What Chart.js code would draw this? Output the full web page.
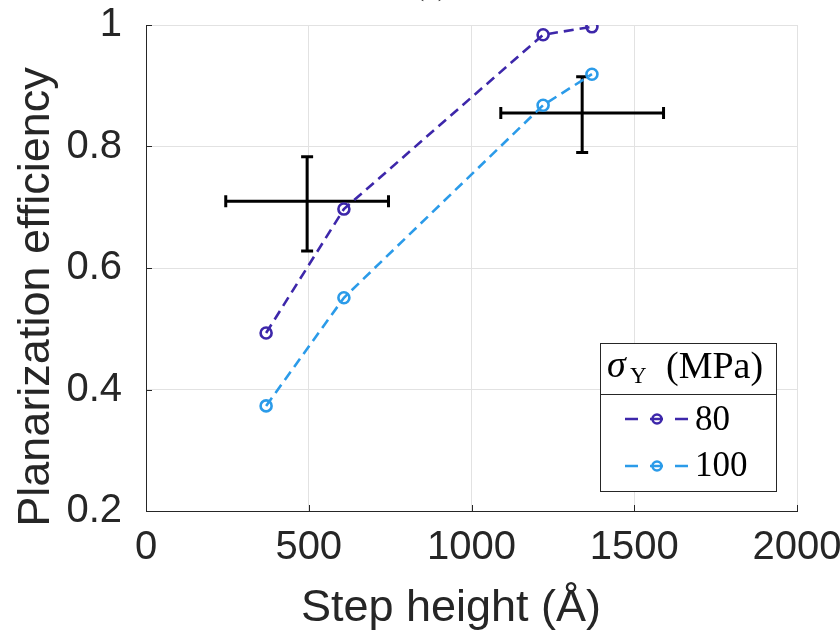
<!DOCTYPE html>
<html>
<head>
<meta charset="utf-8">
<script src="https://cdn.jsdelivr.net/npm/chart.js@4.4.1/dist/chart.umd.min.js"></script>
<style>
  html, body { margin: 0; padding: 0; background: #fff; }
  canvas { display: block; }
</style>
</head>
<body>
<canvas id="effChart" width="840" height="633"></canvas>
<script>
// Simulated points: step height (Å) and planarization efficiency per yield stress
const stepHeight = [369, 608, 1220, 1370];
const eff80 = [0.493, 0.697, 0.984, 0.997];
const eff100 = [0.373, 0.551, 0.868, 0.919];
const seriesLabels = ["80", "100"];
const seriesColors = ["#3d27aa", "#2b9be9"];

// Experimental points with error bars
const expX = [495, 1340];
const expY = [0.710, 0.855];
const expXLow = [245, 1090];
const expXHigh = [745, 1590];
const expYLow = [0.628, 0.790];
const expYHigh = [0.783, 0.915];

const xTicks = [0, 500, 1000, 1500, 2000];
const yTicks = [0.2, 0.4, 0.6, 0.8, 1];

const axisColor = "#262626";
const sansFont = "'Liberation Sans', Arial, sans-serif";
const serifFont = "'Liberation Serif', 'Times New Roman', serif";

function toPoints(ys) {
    return stepHeight.map((x, i) => ({ x: x, y: ys[i] }));
}

function makeSeries(label, ys, color) {
    return {
        label: label,
        data: toPoints(ys),
        showLine: true,
        borderColor: color,
        borderWidth: 2.6,
        borderDash: [10, 6],
        pointRadius: 5.5,
        pointHoverRadius: 5.5,
        pointBorderWidth: 2.6,
        pointBorderColor: color,
        pointBackgroundColor: "rgba(0,0,0,0)",
        tension: 0,
    };
}

// Inward tick marks and the error bars, drawn under the data
const underlayPlugin = {
    id: "underlay",
    beforeDatasetsDraw(chart) {
        const { ctx, scales: { x, y }, chartArea } = chart;
        ctx.save();
        // inward ticks
        ctx.strokeStyle = axisColor;
        ctx.lineWidth = 1;
        ctx.beginPath();
        xTicks.forEach((v) => {
            const px = Math.round(x.getPixelForValue(v)) + 0.5;
            ctx.moveTo(px, chartArea.bottom);
            ctx.lineTo(px, chartArea.bottom - 6);
        });
        yTicks.forEach((v) => {
            const py = Math.round(y.getPixelForValue(v)) + 0.5;
            ctx.moveTo(chartArea.left, py);
            ctx.lineTo(chartArea.left + 6, py);
        });
        ctx.stroke();

        // error bars
        ctx.strokeStyle = "#000";
        ctx.lineWidth = 3;
        const cap = 6;
        expX.forEach((xv, i) => {
            const cx = x.getPixelForValue(xv);
            const cy = y.getPixelForValue(expY[i]);
            const x0 = x.getPixelForValue(expXLow[i]);
            const x1 = x.getPixelForValue(expXHigh[i]);
            const y0 = y.getPixelForValue(expYLow[i]);
            const y1 = y.getPixelForValue(expYHigh[i]);
            ctx.beginPath();
            ctx.moveTo(x0, cy); ctx.lineTo(x1, cy);
            ctx.moveTo(x0, cy - cap); ctx.lineTo(x0, cy + cap);
            ctx.moveTo(x1, cy - cap); ctx.lineTo(x1, cy + cap);
            ctx.moveTo(cx, y0); ctx.lineTo(cx, y1);
            ctx.moveTo(cx - cap, y0); ctx.lineTo(cx + cap, y0);
            ctx.moveTo(cx - cap, y1); ctx.lineTo(cx + cap, y1);
            ctx.stroke();
        });
        ctx.restore();
    },
};

// Axis titles, the clipped panel label and the boxed legend
const overlayPlugin = {
    id: "overlay",
    afterDraw(chart) {
        const ctx = chart.ctx;
        ctx.save();
        ctx.fillStyle = axisColor;
        ctx.font = "45px " + sansFont;
        ctx.textAlign = "center";
        ctx.textBaseline = "alphabetic";
        ctx.fillText("Step height (Å)", 451, 621);

        ctx.save();
        ctx.translate(49, 297);
        ctx.rotate(-Math.PI / 2);
        ctx.fillText("Planarization efficiency", 0, 0);
        ctx.restore();

        // panel label, mostly above the page edge
        ctx.font = "30px " + serifFont;
        ctx.fillText("(a)", 431, -5);

        // legend box
        const bx = 600.5, by = 343.5, bw = 176, bh = 148;
        ctx.fillStyle = "#fff";
        ctx.fillRect(bx, by, bw, bh);
        ctx.strokeStyle = axisColor;
        ctx.lineWidth = 1;
        ctx.strokeRect(bx, by, bw, bh);
        ctx.beginPath();
        ctx.moveTo(bx, 394.5);
        ctx.lineTo(bx + bw, 394.5);
        ctx.stroke();

        ctx.fillStyle = "#000";
        ctx.textAlign = "left";
        ctx.font = "italic 38px " + serifFont;
        ctx.fillText("σ", 607, 377);
        ctx.font = "23px " + serifFont;
        ctx.fillText("Y", 630, 383);
        ctx.font = "38px " + serifFont;
        ctx.fillText("(MPa)", 666, 378);

        const rowY = [419, 466];
        const textY = [430, 476];
        chart.data.datasets.forEach((ds, i) => {
            ctx.strokeStyle = ds.borderColor;
            ctx.lineWidth = 2.6;
            ctx.setLineDash([13, 12]);
            ctx.beginPath();
            ctx.moveTo(625, rowY[i]);
            ctx.lineTo(689, rowY[i]);
            ctx.stroke();
            ctx.setLineDash([]);
            ctx.beginPath();
            ctx.arc(657, rowY[i], 4.5, 0, Math.PI * 2);
            ctx.stroke();
            ctx.fillStyle = "#000";
            ctx.font = "35px " + serifFont;
            ctx.fillText(ds.label, 695, textY[i]);
        });
        ctx.restore();
    },
};

const ctx = document.getElementById("effChart").getContext("2d");
new Chart(ctx, {
    type: "scatter",
    data: {
        datasets: [
            makeSeries(seriesLabels[0], eff80, seriesColors[0]),
            makeSeries(seriesLabels[1], eff100, seriesColors[1]),
        ],
    },
    options: {
        responsive: false,
        animation: false,
        devicePixelRatio: 1,
        layout: { padding: { left: 0, top: 25, right: 43, bottom: 0 } },
        plugins: {
            legend: { display: false },
            tooltip: { enabled: false },
        },
        scales: {
            x: {
                type: "linear",
                min: 0,
                max: 2000,
                afterBuildTicks: (s) => { s.ticks = xTicks.map((v) => ({ value: v })); },
                afterFit: (s) => { s.height = 122; s.paddingLeft = 0; s.paddingRight = 0; },
                ticks: {
                    color: axisColor,
                    font: { family: sansFont, size: 40 },
                    padding: 13,
                    maxRotation: 0,
                    autoSkip: false,
                    callback: (v) => String(v),
                },
                grid: { color: "#e2e2e2", lineWidth: 1, drawTicks: false },
                border: { color: axisColor, width: 1 },
            },
            y: {
                type: "linear",
                min: 0.2,
                max: 1,
                afterBuildTicks: (s) => { s.ticks = yTicks.map((v) => ({ value: v })); },
                afterFit: (s) => { s.width = 146; s.paddingTop = 0; s.paddingBottom = 0; },
                ticks: {
                    color: axisColor,
                    font: { family: sansFont, size: 40 },
                    padding: 24,
                    autoSkip: false,
                    callback: (v) => String(v),
                },
                grid: { color: "#e2e2e2", lineWidth: 1, drawTicks: false },
                border: { color: axisColor, width: 1 },
            },
        },
    },
    plugins: [underlayPlugin, overlayPlugin],
});
</script>
</body>
</html>
